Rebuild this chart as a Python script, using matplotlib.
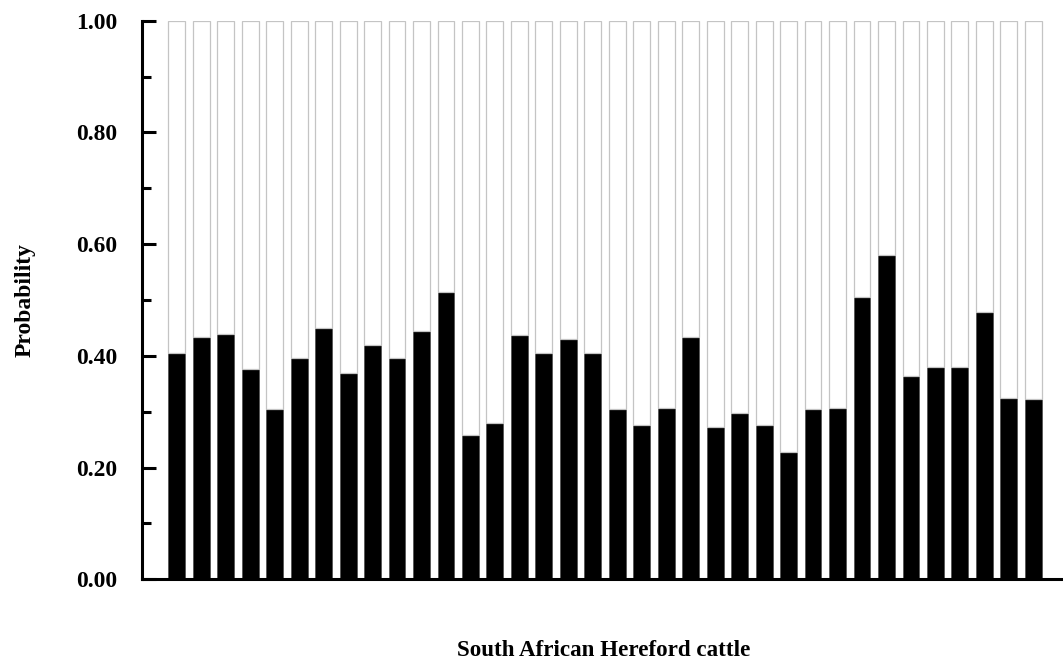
import matplotlib
matplotlib.use("Agg")
import matplotlib.pyplot as plt
from matplotlib.ticker import MultipleLocator, FormatStrFormatter
import numpy as np

# Probability of the first (black) cluster for each animal
probability = [0.406, 0.434, 0.440, 0.376, 0.304, 0.397, 0.450, 0.369, 0.420,
               0.397, 0.444, 0.514, 0.259, 0.280, 0.437, 0.405, 0.431, 0.406,
               0.305, 0.276, 0.307, 0.433, 0.273, 0.298, 0.277, 0.227, 0.305,
               0.306, 0.506, 0.581, 0.364, 0.380, 0.380, 0.478, 0.325, 0.323]
remainder = [1.0 - p for p in probability]
y_ticks = [0.0, 0.2, 0.4, 0.6, 0.8, 1.0]
x_label = "South African Hereford cattle"
y_label = "Probability"

plt.rcParams['font.family'] = ['Liberation Serif', 'DejaVu Serif']

fig = plt.figure(figsize=(10.63, 6.60), dpi=100)
ax = fig.add_axes([142 / 1063, (660 - 579.3) / 660, 1 - 142 / 1063 + 0.002, (579.3 - 20.7) / 660])

x = np.arange(len(probability))
w = 0.69
ax.bar(x, probability, width=w, color='black', edgecolor='#555555', linewidth=0.6, zorder=2)
ax.bar(x, remainder, width=w, bottom=probability, color='white', edgecolor='#c4c4c4',
       linewidth=0.9, zorder=2)

ax.set_ylim(0, 1.0)
ax.set_xlim(-1.42, 36.3)
ax.set_yticks(y_ticks)
ax.yaxis.set_major_formatter(FormatStrFormatter('%.2f'))
ax.yaxis.set_minor_locator(MultipleLocator(0.1))
ax.set_xticks([])

for s in ['top', 'right']:
    ax.spines[s].set_visible(False)
for s in ['left', 'bottom']:
    ax.spines[s].set_linewidth(2.2)
    ax.spines[s].set_color('black')
    ax.spines[s].set_zorder(3)

ax.tick_params(axis='y', which='major', direction='in', length=10, width=2.2, pad=18,
               labelsize=17)
ax.tick_params(axis='y', which='minor', direction='in', length=6.5, width=2.2)
for lab in ax.get_yticklabels():
    lab.set_fontweight('bold')

ax.set_xlabel(x_label, fontsize=16.6, fontweight='bold', va='center')
ax.xaxis.set_label_coords(0.5, -0.128)
ax.set_ylabel(y_label, fontsize=17, fontweight='bold', va='center')
ax.yaxis.set_label_coords(-0.127, 0.5)

fig.savefig("out.png", dpi=100)
